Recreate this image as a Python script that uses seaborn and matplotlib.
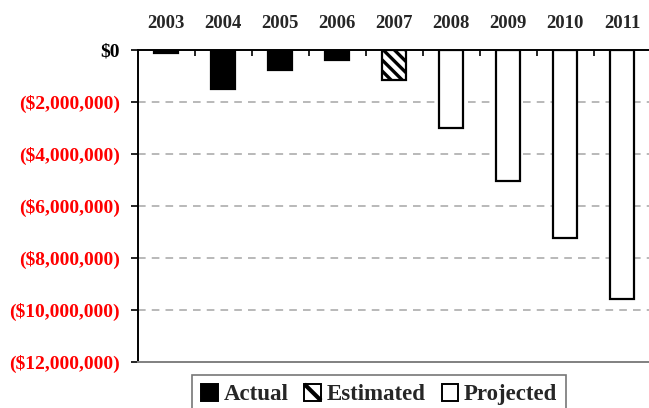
import matplotlib
matplotlib.use("Agg")
import matplotlib.pyplot as plt
from matplotlib.patches import Patch, Rectangle
from matplotlib.lines import Line2D
from matplotlib.legend_handler import HandlerPatch
from matplotlib.ticker import FixedLocator, FuncFormatter
import seaborn as sns
import pandas as pd

years = ["2003", "2004", "2005", "2006", "2007", "2008", "2009", "2010", "2011"]
net_balance = [-150000, -1500000, -800000, -400000, -1170000,
               -3000000, -5070000, -7260000, -9580000]
status = ["Actual", "Actual", "Actual", "Actual", "Estimated",
          "Projected", "Projected", "Projected", "Projected"]
status_order = ["Actual", "Estimated", "Projected"]
y_ticks = [0, -2000000, -4000000, -6000000, -8000000, -10000000, -12000000]

df = pd.DataFrame({"year": years, "value": net_balance, "status": status})

sns.set_theme(style="white")
plt.rcParams["font.family"] = ["Liberation Serif", "DejaVu Serif"]
plt.rcParams["font.weight"] = "bold"
plt.rcParams["hatch.linewidth"] = 2.4

fig = plt.figure(figsize=(6.49, 4.08), dpi=100)
ax = fig.add_axes([137.7 / 649, 46.3 / 408, 513 / 649, 312.2 / 408])

sns.barplot(data=df, x="year", y="value", hue="status", hue_order=status_order,
            order=years, dodge=False, width=0.42, ax=ax, legend=False,
            palette={"Actual": "black", "Estimated": "white", "Projected": "white"},
            edgecolor="black", linewidth=1.6, saturation=1)

styles = {"Actual": dict(fc="black", hatch=None),
          "Estimated": dict(fc="white", hatch="\\" * 3),
          "Projected": dict(fc="white", hatch=None)}
for container, level in zip(ax.containers, status_order):
    for bar in container:
        bar.set_facecolor(styles[level]["fc"])
        bar.set_edgecolor("black")
        if styles[level]["hatch"]:
            bar.set_hatch(styles[level]["hatch"])

ax.set_xlim(-0.5, len(years) - 0.5)
ax.set_ylim(-12000000, 0)

# Category labels along the zero line at the top
ax.xaxis.tick_top()
ax.xaxis.set_label_position("top")
ax.set_xticks(range(len(years)))
ax.set_xticklabels(years, fontsize=13.5, fontweight="bold")
ax.xaxis.set_minor_locator(FixedLocator([i + 0.5 for i in range(len(years) - 1)]))
ax.tick_params(axis="x", which="major", length=0, pad=12.8, top=True, bottom=False)
ax.tick_params(axis="x", which="minor", length=4, width=1.2, direction="in",
               top=True, bottom=False, color="black")

def money(v, pos=None):
    if v == 0:
        return "$0"
    return "(${:,.0f})".format(abs(v))

ax.set_yticks(y_ticks)
ax.yaxis.set_major_formatter(FuncFormatter(money))
ax.tick_params(axis="y", which="major", length=5, width=1.2, direction="out",
               left=True, pad=8, labelsize=14, color="black")
for lbl, v in zip(ax.get_yticklabels(), y_ticks):
    lbl.set_fontweight("bold")
    lbl.set_color("black" if v == 0 else "#ff0000")

for v in y_ticks[1:-1]:
    ax.axhline(v, color="#a6a6a6", linewidth=1.1, linestyle=(0, (5, 4)), zorder=0)

ax.spines["top"].set_color("black")
ax.spines["top"].set_linewidth(1.4)
ax.spines["left"].set_color("black")
ax.spines["left"].set_linewidth(1.4)
ax.spines["bottom"].set_color("#808080")
ax.spines["bottom"].set_linewidth(1.4)
ax.spines["right"].set_visible(False)
ax.set_xlabel("")
ax.set_ylabel("")


class DiagonalSquareHandler(HandlerPatch):
    """Legend key: an outlined square crossed by one diagonal stripe."""

    def create_artists(self, legend, orig_handle, xdescent, ydescent,
                       width, height, fontsize, trans):
        x0, y0 = -xdescent, -ydescent
        rect = Rectangle((x0, y0), width, height, facecolor="white",
                         edgecolor="black", linewidth=1.4, transform=trans)
        diag = Line2D([x0, x0 + width], [y0 + height, y0], color="black",
                      linewidth=3.0, solid_capstyle="butt", transform=trans)
        return [rect, diag]


handles = [Patch(facecolor=styles[s]["fc"], edgecolor="black", linewidth=1.4)
           for s in status_order]
leg = fig.legend(handles, status_order, ncol=3, loc="upper left",
                 bbox_to_anchor=(192 / 649, 1 - 375 / 408),
                 bbox_transform=fig.transFigure, borderaxespad=0,
                 prop={"family": "Liberation Serif", "weight": "bold", "size": 16.5},
                 handlelength=0.72, handleheight=0.72, handletextpad=0.25,
                 columnspacing=0.7, borderpad=0.4, frameon=True, fancybox=False,
                 handler_map={handles[1]: DiagonalSquareHandler()})
leg.get_frame().set_edgecolor("#555555")
leg.get_frame().set_linewidth(1.2)

fig.savefig("out.png", dpi=100)
